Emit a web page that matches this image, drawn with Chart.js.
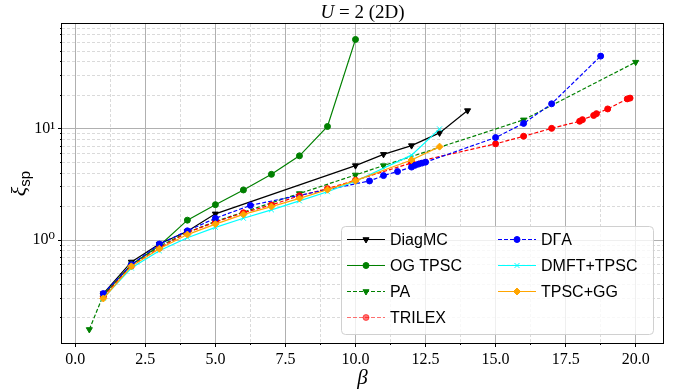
<!DOCTYPE html>
<html>
<head>
<meta charset="utf-8">
<title>xi_sp vs beta, U = 2 (2D)</title>
<script src="https://cdn.jsdelivr.net/npm/chart.js@4.4.0/dist/chart.umd.min.js"></script>
<style>
  html, body { margin: 0; padding: 0; background: #fff; }
  canvas { display: block; }
</style>
</head>
<body>
<canvas id="xiChart" width="678" height="391"></canvas>
<script>
// Spin correlation length xi_sp against inverse temperature beta, U = 2 Hubbard model in 2D

// ---- data ----
const betaDiagMC = [1, 2, 3, 4, 5, 10, 11, 12, 13, 14];
const xiDiagMC   = [0.33, 0.635, 0.92, 1.2, 1.72, 4.67, 5.9, 7.07, 9.2, 14.6];

const betaOG = [1, 2, 3, 4, 5, 6, 7, 8, 9, 10];
const xiOG   = [0.32, 0.6, 0.89, 1.51, 2.08, 2.82, 3.9, 5.72, 10.5, 63.7];

const betaPA = [0.5, 1, 2, 3, 4, 5, 8, 10, 11, 16, 20];
const xiPA   = [0.157, 0.32, 0.6, 0.88, 1.17, 1.47, 2.62, 3.85, 4.67, 12.05, 39.8];

const betaTRILEX = [1, 2, 3, 4, 5, 6, 7, 8, 9, 10, 12, 15, 16, 17, 18, 18.1, 18.5, 18.6, 19, 19.7, 19.8];
const xiTRILEX   = [0.31, 0.585, 0.85, 1.17, 1.45, 1.76, 2.07, 2.5, 2.9, 3.45, 4.94, 7.33, 8.58, 10.1, 11.7, 12.1, 13.2, 13.7, 15.1, 18.6, 18.9];

const betaDGA = [1, 2, 3, 4, 5, 6.25, 10.5, 11, 11.5, 12, 12.125, 12.25, 12.375, 12.5, 15, 16, 17, 18.75];
const xiDGA   = [0.33, 0.6, 0.92, 1.21, 1.57, 2.05, 3.4, 3.8, 4.13, 4.53, 4.7, 4.82, 4.92, 5.02, 8.35, 11.2, 16.8, 45.1];

const betaDMFT = [1, 2, 3, 4, 5, 6, 7, 8, 9, 10, 12, 13];
const xiDMFT   = [0.3, 0.56, 0.8, 1.05, 1.3, 1.57, 1.87, 2.25, 2.72, 3.38, 5.8, 10.0];

const betaGG = [1, 2, 3, 4, 5, 6, 7, 8, 9, 10, 12, 13];
const xiGG   = [0.298, 0.58, 0.835, 1.12, 1.39, 1.7, 2.0, 2.37, 2.84, 3.42, 5.25, 6.92];

const seriesNames = ['DiagMC', 'OG TPSC', 'PA', 'TRILEX', 'D\u0393A', 'DMFT+TPSC', 'TPSC+GG'];
const seriesBeta = [betaDiagMC, betaOG, betaPA, betaTRILEX, betaDGA, betaDMFT, betaGG];
const seriesXi = [xiDiagMC, xiOG, xiPA, xiTRILEX, xiDGA, xiDMFT, xiGG];

// axis ranges and ticks
const X_MIN = -0.475, X_MAX = 20.975;
const Y_MIN = 0.1186, Y_MAX = 87.7;
const xMajorTicks = [0, 2.5, 5, 7.5, 10, 12.5, 15, 17.5, 20];
const xMinorTicks = [1.25, 3.75, 6.25, 8.75, 11.25, 13.75, 16.25, 18.75];
const yMajorTicks = [1, 10];
const yMinorTicks = [0.2, 0.3, 0.4, 0.5, 0.6, 0.7, 0.8, 0.9, 2, 3, 4, 5, 6, 7, 8, 9, 20, 30, 40, 50, 60, 70, 80];

// ---- styles ----
const SERIF = "'Liberation Serif', 'DejaVu Serif', serif";
const SANS = "'Liberation Sans', 'DejaVu Sans', sans-serif";
const DASHED = [4, 2];

const seriesStyles = [
    { color: '#000000', dash: [],     point: 'triangle', rotation: 180, radius: 3.5 },
    { color: '#008000', dash: [],     point: 'circle',   rotation: 0,   radius: 3 },
    { color: '#008000', dash: DASHED, point: 'triangle', rotation: 180, radius: 3.5 },
    { color: '#ff0000', dash: DASHED, point: 'circle',   rotation: 0,   radius: 3, legendAlpha: 0.55 },
    { color: '#0000ff', dash: DASHED, point: 'circle',   rotation: 0,   radius: 3 },
    { color: '#00ffff', dash: [],     point: 'crossRot', rotation: 0,   radius: 3.5 },
    { color: '#ffa500', dash: [],     point: 'rectRot',  rotation: 0,   radius: 3.5 }
];

const toPoints = (xs, ys) => xs.map((x, i) => ({ x, y: ys[i] }));

const datasets = seriesNames.map((name, i) => {
    const s = seriesStyles[i];
    return {
        label: name,
        data: toPoints(seriesBeta[i], seriesXi[i]),
        showLine: true,
        borderColor: s.color,
        backgroundColor: s.color,
        borderWidth: 1.2,
        borderDash: s.dash,
        pointStyle: s.point,
        pointRotation: s.rotation,
        pointRadius: s.radius,
        pointBorderWidth: 1,
        pointBorderColor: s.color,
        pointBackgroundColor: s.color,
        tension: 0,
        // later series sit on top
        order: seriesNames.length - i
    };
});

// ---- helpers ----
const fixedTicks = (values) => (scale) => {
    scale.ticks = values.map(value => ({ value }));
};

const SUPERSCRIPT = { '0': '\u2070', '1': '\u00b9', '2': '\u00b2', '3': '\u00b3', '-': '\u207b' };
const powLabel = (v) => {
    const exp = String(Math.round(Math.log10(v)));
    return '10' + exp.split('').map(c => SUPERSCRIPT[c] || c).join('');
};

// draws a list of text runs on one line, centred on x
const drawRuns = (ctx, runs, x, y) => {
    let total = 0;
    runs.forEach(r => { ctx.font = r.font; r.w = ctx.measureText(r.text).width; total += r.w; });
    let cx = x - total / 2;
    ctx.textAlign = 'left';
    ctx.textBaseline = 'alphabetic';
    runs.forEach(r => {
        ctx.font = r.font;
        ctx.fillText(r.text, cx, y + (r.dy || 0));
        cx += r.w;
    });
};

// ---- title, axis labels, frame and two-column legend ----
const decorations = {
    id: 'decorations',
    afterDatasetsDraw(chart) {
        const { ctx, chartArea: a } = chart;
        ctx.save();
        ctx.strokeStyle = '#000';
        ctx.lineWidth = 1;
        ctx.strokeRect(a.left - 0.5, a.top - 0.5, a.right - a.left + 1, a.bottom - a.top + 1);
        ctx.restore();
    },
    afterDraw(chart) {
        const { ctx, chartArea: a } = chart;
        const midX = (a.left + a.right) / 2;
        const midY = (a.top + a.bottom) / 2;
        ctx.save();
        ctx.fillStyle = '#000';

        // title
        drawRuns(ctx, [
            { text: 'U', font: `italic 19px ${SERIF}` },
            { text: ' = 2 (2D)', font: `19px ${SERIF}` }
        ], midX, a.top - 6);

        // x label
        drawRuns(ctx, [{ text: '\u03b2', font: `italic 21px ${SERIF}` }], midX, 384);

        // y label
        ctx.save();
        ctx.translate(26, midY);
        ctx.rotate(-Math.PI / 2);
        drawRuns(ctx, [
            { text: '\u03be', font: `italic 22px ${SERIF}` },
            { text: 'sp', font: `15px ${SANS}`, dy: 4 }
        ], 0, 0);
        ctx.restore();

        // legend
        const w = 312, h = 108;
        const left = a.right - 10 - w, top = a.bottom - 9 - h;
        ctx.beginPath();
        ctx.roundRect(left + 0.5, top + 0.5, w, h, 4);
        ctx.fillStyle = 'rgba(255,255,255,0.8)';
        ctx.fill();
        ctx.strokeStyle = '#d0d0d0';
        ctx.lineWidth = 1;
        ctx.stroke();

        const drawPoint = Chart.helpers && Chart.helpers.drawPoint;
        chart.data.datasets.forEach((ds, i) => {
            const s = seriesStyles[i];
            const col = i < 4 ? 0 : 1;
            const row = i < 4 ? i : i - 4;
            const x0 = left + 6 + col * 151;
            const y = top + 13.5 + row * 26;

            ctx.save();
            ctx.globalAlpha = s.legendAlpha || 1;
            ctx.strokeStyle = s.color;
            ctx.fillStyle = s.color;
            ctx.lineWidth = 1.2;
            ctx.setLineDash(s.dash);
            ctx.beginPath();
            ctx.moveTo(x0, y);
            ctx.lineTo(x0 + 38, y);
            ctx.stroke();
            ctx.setLineDash([]);
            ctx.lineWidth = 1;
            if (drawPoint) {
                drawPoint(ctx, { pointStyle: s.point, rotation: s.rotation, radius: s.radius, borderWidth: 1 }, x0 + 19, y);
            } else {
                ctx.beginPath();
                ctx.arc(x0 + 19, y, s.radius, 0, Math.PI * 2);
                ctx.fill();
            }
            ctx.restore();

            ctx.fillStyle = '#000';
            ctx.font = `16px ${SANS}`;
            ctx.textAlign = 'left';
            ctx.textBaseline = 'middle';
            ctx.fillText(ds.label, x0 + 43, y + 1);
        });
        ctx.restore();
    }
};

// ---- chart ----
const MAJOR_GRID = '#b0b0b0';
const MINOR_GRID = '#dadada';

new Chart(document.getElementById('xiChart'), {
    type: 'scatter',
    data: { datasets },
    options: {
        responsive: false,
        animation: false,
        devicePixelRatio: 1,
        layout: { padding: { top: 24, right: 15, left: 0, bottom: 0 } },
        plugins: {
            legend: { display: false },
            tooltip: { enabled: false }
        },
        scales: {
            x: {
                type: 'linear',
                position: 'bottom',
                weight: 1,
                min: X_MIN,
                max: X_MAX,
                afterBuildTicks: fixedTicks(xMajorTicks),
                afterFit: (s) => { s.height = 48; },
                ticks: {
                    callback: (v) => Number(v).toFixed(1),
                    font: { family: SERIF, size: 16 },
                    color: '#000',
                    padding: 3,
                    maxRotation: 0,
                    autoSkip: false
                },
                grid: { color: MAJOR_GRID, lineWidth: 1, tickLength: 4, tickColor: '#000', tickWidth: 1 },
                border: { display: false }
            },
            xMinor: {
                type: 'linear',
                position: 'bottom',
                weight: 0,
                min: X_MIN,
                max: X_MAX,
                afterBuildTicks: fixedTicks(xMinorTicks),
                afterFit: (s) => { s.height = 0; },
                ticks: { display: false },
                grid: { color: MINOR_GRID, lineWidth: 1, tickLength: 2, tickColor: '#000', tickWidth: 1, tickBorderDash: [] },
                border: { display: false, dash: [3, 2] }
            },
            y: {
                type: 'logarithmic',
                position: 'left',
                weight: 1,
                min: Y_MIN,
                max: Y_MAX,
                afterBuildTicks: fixedTicks(yMajorTicks),
                afterFit: (s) => { s.width = 62; },
                ticks: {
                    callback: (v) => powLabel(v),
                    font: { family: SERIF, size: 16 },
                    color: '#000',
                    padding: 3,
                    autoSkip: false
                },
                grid: { color: MAJOR_GRID, lineWidth: 1, tickLength: 4, tickColor: '#000', tickWidth: 1 },
                border: { display: false }
            },
            yMinor: {
                type: 'logarithmic',
                position: 'left',
                weight: 0,
                min: Y_MIN,
                max: Y_MAX,
                afterBuildTicks: fixedTicks(yMinorTicks),
                afterFit: (s) => { s.width = 0; },
                ticks: { display: false },
                grid: { color: MINOR_GRID, lineWidth: 1, tickLength: 2, tickColor: '#000', tickWidth: 1, tickBorderDash: [] },
                border: { display: false, dash: [3, 2] }
            }
        }
    },
    plugins: [decorations]
});
</script>
</body>
</html>
